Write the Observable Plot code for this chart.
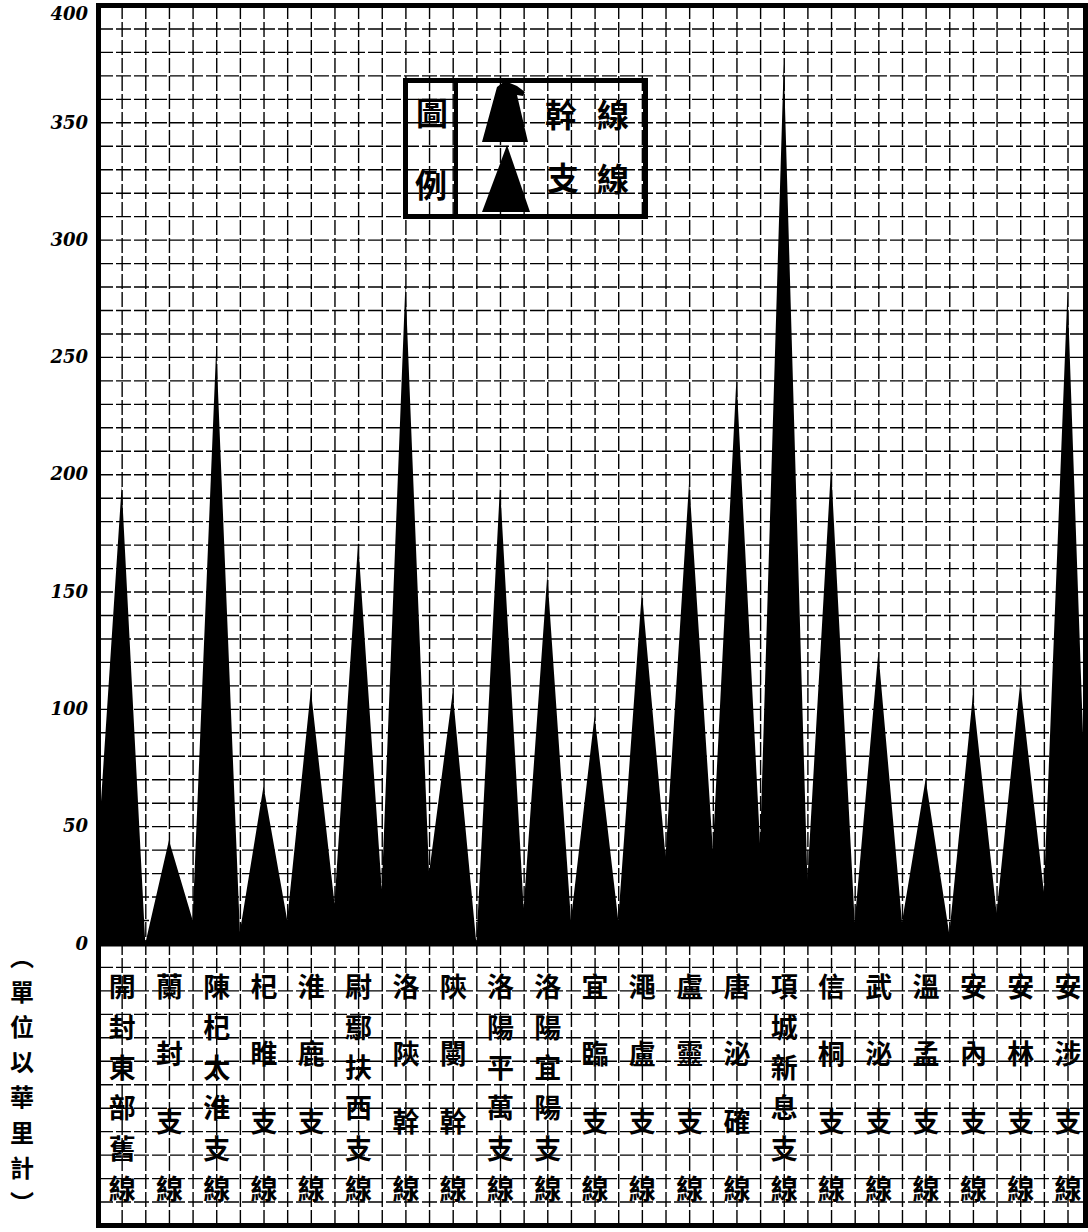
<!DOCTYPE html>
<html>
<head>
<meta charset="utf-8">
<script src="https://cdn.jsdelivr.net/npm/d3@7"></script>
<script src="https://cdn.jsdelivr.net/npm/@observablehq/plot@0.6"></script>
<style>
  html, body { margin: 0; padding: 0; background: #fff; }
  #wrap { position: relative; width: 1088px; height: 1232px; overflow: hidden; }
  #legend { position: absolute; left: 403px; top: 78px; }
</style>
</head>
<body>
<div id="wrap"></div>
<script>
// ---- data (華里) ----
const categories = [
  "開封東部舊線", "蘭封支線", "陳杞太淮支線", "杞睢支線", "淮鹿支線",
  "尉鄢扶西支線", "洛陝幹線", "陝閿幹線", "洛陽平萬支線", "洛陽宜陽支線",
  "宜臨支線", "澠盧支線", "盧靈支線", "唐泌確線", "項城新息支線",
  "信桐支線", "武泌支線", "溫孟支線", "安內支線", "安林支線", "安涉支線"
];
// height of each spike (length of the line)
const peaks = [195, 44, 254, 67, 108, 171, 281, 107, 195, 157, 97, 150, 197, 241, 375, 203, 124, 70, 106, 111, 278];
// level where neighbouring spikes meet, at each column boundary (0 … 21)
const valleys = [41, 0, 10, 5, 10, 17, 23, 30, 0, 15, 10, 10, 37, 40, 42, 27, 9, 9, 4, 13, 22, -10];
const yTicks = [0, 50, 100, 150, 200, 250, 300, 350, 400];
const unitLabel = "︵單位以華里計︶";

// ---- derived tables ----
const outline = [];
for (let i = 0; i <= categories.length; i++) {
  outline.push({x: i, y: valleys[i]});
  if (i < categories.length) outline.push({x: i + 0.5, y: peaks[i]});
}
const labelChars = [];
categories.forEach((name, i) => {
  const chars = Array.from(name);
  const n = chars.length;
  chars.forEach((c, k) => labelChars.push({x: i + 0.5, y: -19 - k * 86 / (n - 1), c}));
});
const unitChars = Array.from(unitLabel).map((c, k, a) => ({c, y: -6 - k * 105 / (a.length - 1)}));

const xMax = 20.87;
const cjk = "'Noto Sans CJK TC', 'Noto Sans CJK SC', sans-serif";

const chart = Plot.plot({
  width: 1088,
  height: 1232,
  marginLeft: 98,
  marginRight: 3,
  marginTop: 5,
  marginBottom: 7,
  x: {domain: [0, xMax], axis: null},
  y: {domain: [-120, 400], axis: null},
  style: {background: "#fff", overflow: "visible"},
  marks: [
    // grid: half-column verticals and 10-li horizontals
    Plot.ruleX(d3.range(1, 42).map(k => k / 2).filter(v => v < xMax), {
      y1: -120, y2: 400, stroke: "#000", strokeWidth: 1.4, strokeDasharray: "15,3"
    }),
    Plot.ruleY(d3.range(-110, 400, 10).filter(v => v !== 0), {
      x1: 0, x2: xMax, stroke: "#000", strokeWidth: 1.4, strokeDasharray: "15,3"
    }),
    // spikes
    Plot.areaY(outline, {x: "x", y: "y", fill: "#000", curve: "linear", clip: true}),
    Plot.ruleY([0], {stroke: "#000", strokeWidth: 5}),
    Plot.frame({stroke: "#000", strokeWidth: 5}),
    // y tick labels
    Plot.text(yTicks.filter(t => t < 400), {
      x: -0.22, y: d => d, text: d => String(d), textAnchor: "end",
      fontSize: 18, fontStyle: "italic", fontWeight: "bold",
      fontFamily: "'DejaVu Serif', serif", fill: "#000"
    }),
    Plot.text(yTicks.filter(t => t === 400), {
      x: -0.22, y: d => d, text: d => String(d), textAnchor: "end", lineAnchor: "top", dy: 2,
      fontSize: 18, fontStyle: "italic", fontWeight: "bold",
      fontFamily: "'DejaVu Serif', serif", fill: "#000"
    }),
    // category names, written vertically in the table
    Plot.text(labelChars, {
      x: "x", y: "y", text: "c", fontSize: 27, fontWeight: "bold",
      fontFamily: cjk, fill: "#000"
    }),
    // unit note, one character per line
    Plot.text(unitChars, {
      x: -1.62, y: "y", text: "c",
      fontSize: 24, fontWeight: "bold", fontFamily: cjk, fill: "#000"
    })
  ]
});

const wrap = document.getElementById("wrap");
wrap.appendChild(chart);

// legend box (drawn inside the plot area, transparent so the grid shows through)
const ns = "http://www.w3.org/2000/svg";
const lg = document.createElementNS(ns, "svg");
lg.setAttribute("id", "legend");
lg.setAttribute("width", 246);
lg.setAttribute("height", 142);
lg.innerHTML = `
  <rect x="2.5" y="2.5" width="240" height="136" fill="none" stroke="#000" stroke-width="5"/>
  <line x1="53" y1="2" x2="53" y2="139" stroke="#000" stroke-width="4"/>
  <polygon points="79,64 94,9 102,3 114,8 122,14 120,18 114,17 125,64" fill="#000"/>
  <polygon points="79,134 104,67 127,134" fill="#000"/>
  <g font-family="${cjk}" font-weight="bold" font-size="32" text-anchor="middle" dominant-baseline="central" fill="#000">
    <text x="29" y="33">圖</text>
    <text x="28" y="105">例</text>
    <text x="158" y="35">幹</text>
    <text x="210" y="35">線</text>
    <text x="160" y="98">支</text>
    <text x="210" y="99">線</text>
  </g>`;
wrap.appendChild(lg);
</script>
</body>
</html>
